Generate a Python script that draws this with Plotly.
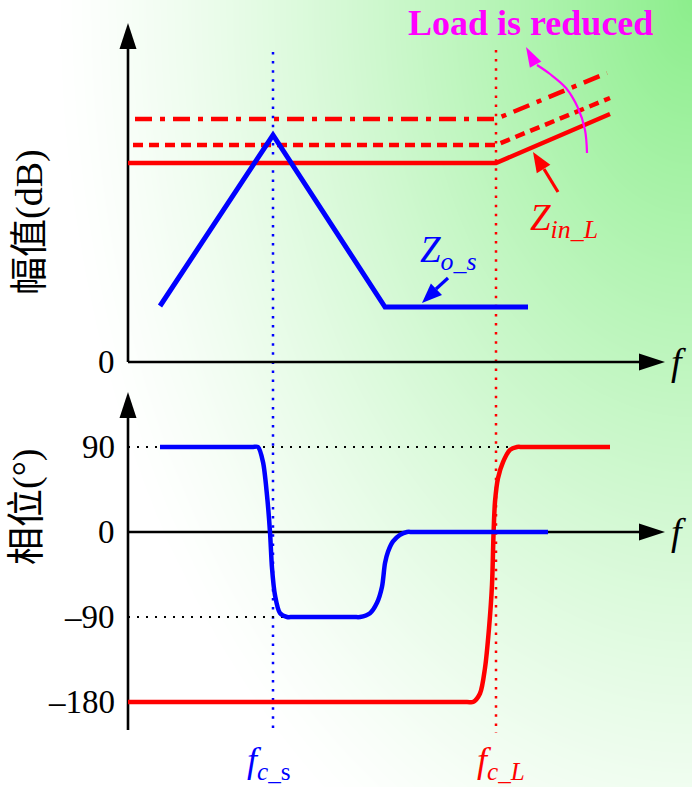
import numpy as np
import plotly.graph_objects as go

W, H = 692, 787

# ---------------- data ----------------
# frequency in arbitrary units; magnitude in arbitrary dB units; phase in degrees
f_cs = 14.5          # f_c_s
f_cL = 36.8          # f_c_L

# magnitude panel
zin_solid_f = [0.0, 36.8, 48.2]
zin_solid = [19.9, 19.9, 24.8]
zin_dash_f = [0.5, 36.8, 48.2]
zin_dash = [21.7, 21.7, 26.4]
zin_dashdot_f = [0.7, 36.8, 47.9]
zin_dashdot = [24.3, 24.3, 28.9]
zo_f = [3.2, 14.5, 25.7, 40.0]
zo_mag = [5.6, 22.7, 5.5, 5.5]

# phase panel
zo_phase_f = [3.2, 12.4, 13.0, 13.5, 13.9, 14.2, 14.4, 14.7, 15.2, 15.9, 16.5,
              22.6, 23.2, 24.2, 24.9, 25.4, 25.7, 26.0, 26.5, 27.2, 27.9, 28.5, 42.0]
zo_phase = [90, 90, 90, 74, 39, 0, -38, -67, -86, -90, -90,
            -90, -90, -86, -75, -58, -33, -21, -10, -3, 0, 0, 0]
zin_phase_f = [0.0, 33.9, 34.5, 35.2, 35.7, 36.1, 36.4, 36.55, 36.7, 37.0, 37.5,
               38.2, 38.9, 39.5, 48.2]
zin_phase = [-180, -180, -180, -171, -144, -102, -56, -3, 32, 57, 74,
             87, 90, 90, 90]

phase_ticks = [90, 0, -90, -180]
phase_tick_text = ["90", "0", "\u201390", "\u2013180"]
mag_ticks = [0]
mag_tick_text = ["0"]

# guide extents
guide90_f = [0.0, 38.6]
guide_m90_f = [0.0, 15.8]

# axis extents (arrow base / tip)
f_axis_end, f_axis_tip = 51.2, 53.7
mag_axis_end, mag_axis_tip = 31.3, 33.9
ph_axis_bottom, ph_axis_end, ph_axis_tip = -209.6, 123.9, 148.2

# annotation arrows (magnitude-panel coordinates)
load_arc_f = [45.9, 45.7, 45.0, 43.8, 42.2, 40.9]
load_arc_v = [20.9, 23.2, 25.4, 27.4, 28.8, 29.7]
load_tip = (39.8, 31.5)
zin_arrow_f = [43.0, 41.6]
zin_arrow_v = [17.0, 19.3]
zin_tip = (40.5, 21.0)
zo_arrow_f = [32.0, 30.8]
zo_arrow_v = [8.4, 7.3]
zo_tip = (29.4, 5.9)

RED = "#ff0000"
BLUE = "#0000ff"
MAG = "#ff00ff"
SERIF = "Liberation Serif, Times New Roman, serif"
CJK = "Liberation Serif, Noto Sans CJK SC, serif"

fig = go.Figure()

# ---------------- background gradient ----------------
xs = np.linspace(0, W, 70)
ys = np.linspace(0, H, 80)
X, Y = np.meshgrid(xs, ys)
d = np.sqrt(((W - X) / 640.0) ** 2 + (Y / 980.0) ** 2)
Z = np.clip(1 - d, 0, 1) ** 1.25
fig.add_trace(go.Heatmap(x=xs, y=ys, z=Z, zmin=0, zmax=1, zsmooth="best",
                         colorscale=[[0, "rgb(255,255,255)"], [1, "rgb(140,238,140)"]],
                         showscale=False, hoverinfo="skip", xaxis="x", yaxis="y"))

# ---------------- magnitude panel (x2, y2) ----------------
top = dict(xaxis="x2", yaxis="y2", hoverinfo="skip", showlegend=False)
fig.add_trace(go.Scatter(x=[f_cs, f_cs], y=[31.0, -37.1], mode="lines",
                         line=dict(color=BLUE, width=2.5, dash="2.5px,6.6px"), **top))
fig.add_trace(go.Scatter(x=[f_cL, f_cL], y=[31.2, -37.1], mode="lines",
                         line=dict(color=RED, width=2.5, dash="2.5px,6.6px"), **top))
fig.add_trace(go.Scatter(x=[0, 0], y=[0, mag_axis_end], mode="lines",
                         line=dict(color="black", width=2.6), **top))
fig.add_trace(go.Scatter(x=[0, f_axis_end], y=[0, 0], mode="lines",
                         line=dict(color="black", width=2.6), **top))
fig.add_trace(go.Scatter(x=zin_dashdot_f, y=zin_dashdot, mode="lines",
                         line=dict(color=RED, width=4.5, dash="17px,8px,5px,8px"), **top))
fig.add_trace(go.Scatter(x=zin_dash_f, y=zin_dash, mode="lines",
                         line=dict(color=RED, width=4.5, dash="10px,6px"), **top))
fig.add_trace(go.Scatter(x=zin_solid_f, y=zin_solid, mode="lines",
                         line=dict(color=RED, width=4.5), **top))
fig.add_trace(go.Scatter(x=zo_f, y=zo_mag, mode="lines",
                         line=dict(color=BLUE, width=5), **top))
fig.add_trace(go.Scatter(x=load_arc_f, y=load_arc_v, mode="lines",
                         line=dict(color=MAG, width=2.2, shape="spline"), **top))
fig.add_trace(go.Scatter(x=zin_arrow_f, y=zin_arrow_v, mode="lines",
                         line=dict(color=RED, width=3.2), **top))
fig.add_trace(go.Scatter(x=zo_arrow_f, y=zo_arrow_v, mode="lines",
                         line=dict(color=BLUE, width=3.2), **top))

# ---------------- phase panel (x3, y3) ----------------
bot = dict(xaxis="x3", yaxis="y3", hoverinfo="skip", showlegend=False)
fig.add_trace(go.Scatter(x=guide90_f, y=[90, 90], mode="lines",
                         line=dict(color="black", width=2, dash="2px,7px"), **bot))
fig.add_trace(go.Scatter(x=guide_m90_f, y=[-90, -90], mode="lines",
                         line=dict(color="black", width=2, dash="2px,7px"), **bot))
fig.add_trace(go.Scatter(x=[0, 0], y=[ph_axis_bottom, ph_axis_end], mode="lines",
                         line=dict(color="black", width=2.6), **bot))
fig.add_trace(go.Scatter(x=[0, f_axis_end], y=[0, 0], mode="lines",
                         line=dict(color="black", width=2.6), **bot))
fig.add_trace(go.Scatter(x=zin_phase_f, y=zin_phase, mode="lines",
                         line=dict(color=RED, width=4.5, shape="spline", smoothing=0.8), **bot))
fig.add_trace(go.Scatter(x=zo_phase_f, y=zo_phase, mode="lines",
                         line=dict(color=BLUE, width=4.5, shape="spline", smoothing=0.8), **bot))


def head(xref, yref, tip, ux, uy, L, Wd, color):
    n = np.hypot(ux, uy)
    ux, uy = ux / n, uy / n          # pixel direction (y down)
    bx, by = -L * ux, -L * uy
    nx, ny = -uy, ux
    pts = [(0.0, 0.0), (bx + nx * Wd / 2, by + ny * Wd / 2), (bx - nx * Wd / 2, by - ny * Wd / 2)]
    path = "M" + " L".join(f"{px:.2f},{-py:.2f}" for px, py in pts) + " Z"
    return dict(type="path", xref=xref, yref=yref, xsizemode="pixel", ysizemode="pixel",
                xanchor=tip[0], yanchor=tip[1], path=path, fillcolor=color,
                line=dict(color=color, width=0), layer="above")


shapes = [
    head("x2", "y2", (0, mag_axis_tip), 0, -1, 26, 17, "black"),
    head("x2", "y2", (f_axis_tip, 0), 1, 0, 26, 17, "black"),
    head("x3", "y3", (0, ph_axis_tip), 0, -1, 26, 17, "black"),
    head("x3", "y3", (f_axis_tip, 0), 1, 0, 26, 17, "black"),
    head("x2", "y2", load_tip, -0.48, -0.88, 20, 13, MAG),
    head("x2", "y2", zin_tip, -0.53, -0.85, 20, 16, RED),
    head("x2", "y2", zo_tip, -0.72, 0.69, 20, 16, BLUE),
]

ann = []
for v, t in zip(phase_ticks, phase_tick_text):
    ann.append(dict(x=-1.1, y=v, xref="x3", yref="y3", text=t, showarrow=False,
                    xanchor="right", yanchor="middle", font=dict(family=SERIF, size=33, color="black")))
for v, t in zip(mag_ticks, mag_tick_text):
    ann.append(dict(x=-1.1, y=v, xref="x2", yref="y2", text=t, showarrow=False,
                    xanchor="right", yanchor="middle", font=dict(family=SERIF, size=33, color="black")))
ann.append(dict(x=55.0, y=0, xref="x2", yref="y2", text="<i>f</i>", showarrow=False,
                xanchor="center", yanchor="middle", font=dict(family=SERIF, size=38, color="black")))
ann.append(dict(x=55.0, y=0, xref="x3", yref="y3", text="<i>f</i>", showarrow=False,
                xanchor="center", yanchor="middle", font=dict(family=SERIF, size=38, color="black")))
ann.append(dict(x=30 / W, y=1 - 222 / H, xref="paper", yref="paper", text="幅值(dB)", showarrow=False,
                textangle=-90, xanchor="center", yanchor="middle", font=dict(family=CJK, size=38, color="black")))
ann.append(dict(x=27 / W, y=1 - 507 / H, xref="paper", yref="paper", text="相位(°)", showarrow=False,
                textangle=-90, xanchor="center", yanchor="middle", font=dict(family=CJK, size=38, color="black")))
ann.append(dict(x=40.2, y=33.9, xref="x2", yref="y2", text="<b>Load is reduced</b>", showarrow=False,
                xanchor="center", yanchor="middle", font=dict(family=SERIF, size=36, color=MAG)))
ann.append(dict(x=40.0, y=14.2, xref="x2", yref="y2", text="<i>Z</i><sub><i>in_L</i></sub>", showarrow=False,
                xanchor="left", yanchor="middle", font=dict(family=SERIF, size=37, color=RED)))
ann.append(dict(x=29.0, y=11.0, xref="x2", yref="y2", text="<i>Z</i><sub><i>o_s</i></sub>", showarrow=False,
                xanchor="left", yanchor="middle", font=dict(family=SERIF, size=37, color=BLUE)))
ann.append(dict(x=f_cs - 0.4, y=1 - 762 / H, xref="x2", yref="paper", text="<i>f</i><sub><i>c</i>_s</sub>",
                showarrow=False, xanchor="center", yanchor="middle", font=dict(family=SERIF, size=36, color=BLUE)))
ann.append(dict(x=f_cL + 0.5, y=1 - 762 / H, xref="x2", yref="paper", text="<i>f</i><sub><i>c_L</i></sub>",
                showarrow=False, xanchor="center", yanchor="middle", font=dict(family=SERIF, size=36, color=RED)))

hidden = dict(visible=False, showgrid=False, zeroline=False, fixedrange=True)
fig.update_layout(
    width=W, height=H, autosize=False,
    margin=dict(l=0, r=0, t=0, b=0, pad=0),
    paper_bgcolor="white", plot_bgcolor="rgba(0,0,0,0)",
    showlegend=False,
    xaxis=dict(domain=[0, 1], range=[0, W], anchor="y", **hidden),
    yaxis=dict(domain=[0, 1], range=[H, 0], anchor="x", **hidden),
    xaxis2=dict(domain=[0, 1], range=[-12.8, 56.4], anchor="y2", **hidden),
    yaxis2=dict(domain=[0, 1], range=[-42.5, 36.2], anchor="x2", **hidden),
    xaxis3=dict(domain=[0, 1], range=[-12.8, 56.4], anchor="y3", **hidden),
    yaxis3=dict(domain=[0, 1], range=[-270.0, 563.29], anchor="x3", **hidden),
    shapes=shapes,
    annotations=ann,
)

fig.write_html("out.html", config={"displayModeBar": False},
               post_script="document.body.style.margin='0px';document.body.style.overflow='hidden';")
